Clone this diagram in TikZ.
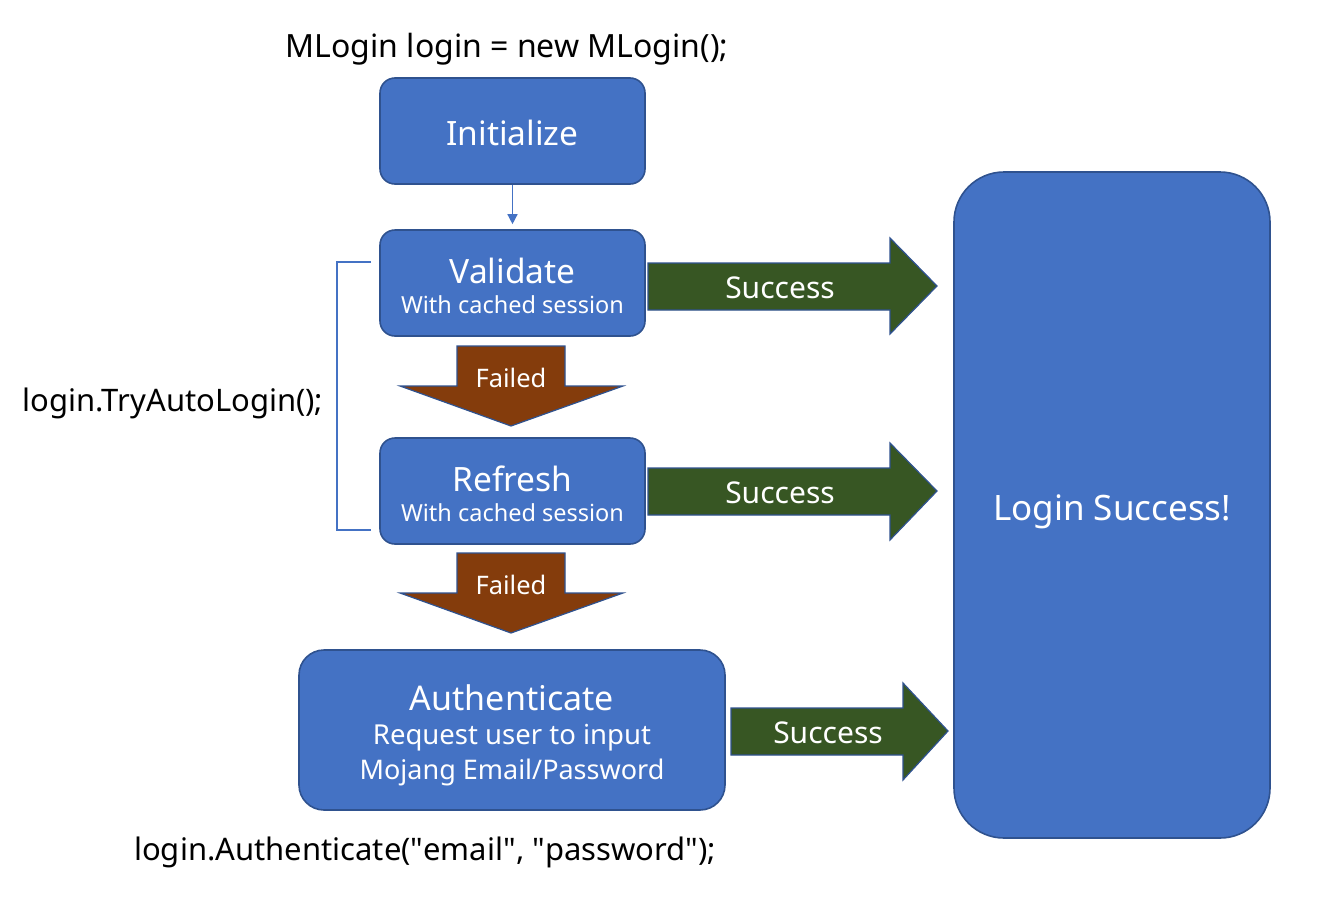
\documentclass[tikz,border=0pt]{standalone}
\usepackage{fontspec}
\setmainfont{Noto Sans}
\usetikzlibrary{arrows.meta}
\definecolor{boxblue}{HTML}{4472C4}
\definecolor{edgeblue}{HTML}{2F528F}
\definecolor{okgreen}{HTML}{375623}
\definecolor{failbrown}{HTML}{843C0C}
\newcommand{\fs}[1]{\fontsize{#1}{#1}\selectfont}
\tikzset{
  x=1pt, y=-1pt,
  blockbox/.style={draw=edgeblue, fill=boxblue, line width=1.6pt, inner sep=0pt},
  blockarrow/.style={draw=edgeblue, line width=1.2pt, line join=miter},
  wtext/.style={text=white, anchor=base, inner sep=0pt},
  ktext/.style={text=black, anchor=base, inner sep=0pt},
}
\begin{document}
\begin{tikzpicture}
\useasboundingbox (0,0) rectangle (1336,905);
% boxes
\node[blockbox, rounded corners=15pt, minimum width=265pt, minimum height=106pt] (init) at (512.5,131) {};
\node[blockbox, rounded corners=15pt, minimum width=265pt, minimum height=106pt] (valid) at (512.5,283) {};
\node[blockbox, rounded corners=15pt, minimum width=265pt, minimum height=106pt] (refr) at (512.5,491) {};
\node[blockbox, rounded corners=25pt, minimum width=426pt, minimum height=160pt] (auth) at (512,730) {};
\node[blockbox, rounded corners=50pt, minimum width=316pt, minimum height=666pt] (login) at (1112,505) {};
% box texts
\node[wtext] (tinit) at (512.5,145) {\fs{33.5}Initialize};
\node[wtext] (tvalid) at (512.5,283) {\fs{33.5}Validate};
\node[wtext] (svalid) at (512.5,313) {\fs{23.5}With cached session};
\node[wtext] (trefr) at (512.5,491) {\fs{33.5}Refresh};
\node[wtext] (srefr) at (512.5,521) {\fs{23.5}With cached session};
\node[wtext] (tauth) at (512,710) {\fs{34}Authenticate};
\node[wtext] (sauth1) at (512,744) {\fs{27.5}Request user to input};
\node[wtext] (sauth2) at (512,779) {\fs{27}Mojang Email/Password};
\node[wtext] (tlogin) at (1112,520) {\fs{35}Login Success!};
% init -> validate
\draw[draw=boxblue, line width=1.4pt, -{Triangle[length=10pt,width=10pt]}] (init.south) -- ([yshift=5pt]valid.north);
% bracket
\coordinate (bt) at (371,262);
\coordinate (bb) at (371,530);
\draw[draw=boxblue, line width=1.4pt] (bt) -- (337,262) -- (337,530) -- (bb);
% failed arrows
\draw[blockarrow, fill=failbrown] (457,346) -- (565,346) -- (565,386) -- (623,386) -- (511,426) -- (400,386) -- (457,386) -- cycle;
\node[wtext] (f1) at (511,387) {\fs{25.5}Failed};
\draw[blockarrow, fill=failbrown] (457,553) -- (565,553) -- (565,593) -- (623,593) -- (511,633) -- (400,593) -- (457,593) -- cycle;
\node[wtext] (f2) at (511,594) {\fs{25.5}Failed};
% success arrows
\draw[blockarrow, fill=okgreen] (648,263) -- (890,263) -- (890,238) -- (937,286) -- (890,334) -- (890,310) -- (648,310) -- cycle;
\node[wtext] (s1) at (780,298) {\fs{30}Success};
\draw[blockarrow, fill=okgreen] (648,468) -- (890,468) -- (890,443) -- (937,491) -- (890,540) -- (890,515) -- (648,515) -- cycle;
\node[wtext] (s2) at (780,503) {\fs{30}Success};
\draw[blockarrow, fill=okgreen] (731,708) -- (903,708) -- (903,683) -- (948,731) -- (903,780) -- (903,755) -- (731,755) -- cycle;
\node[wtext] (s3) at (828,743) {\fs{30}Success};
% code texts
\node[ktext] (c1) at (507,57) {\fs{32}MLogin login = new MLogin();};
\node[ktext] (c2) at (173,411) {\fs{31}login.TryAutoLogin();};
\node[ktext] (c3) at (425,860) {\fs{31}login.Authenticate(\textquotedbl email\textquotedbl, \textquotedbl password\textquotedbl);};
\end{tikzpicture}
\end{document}
